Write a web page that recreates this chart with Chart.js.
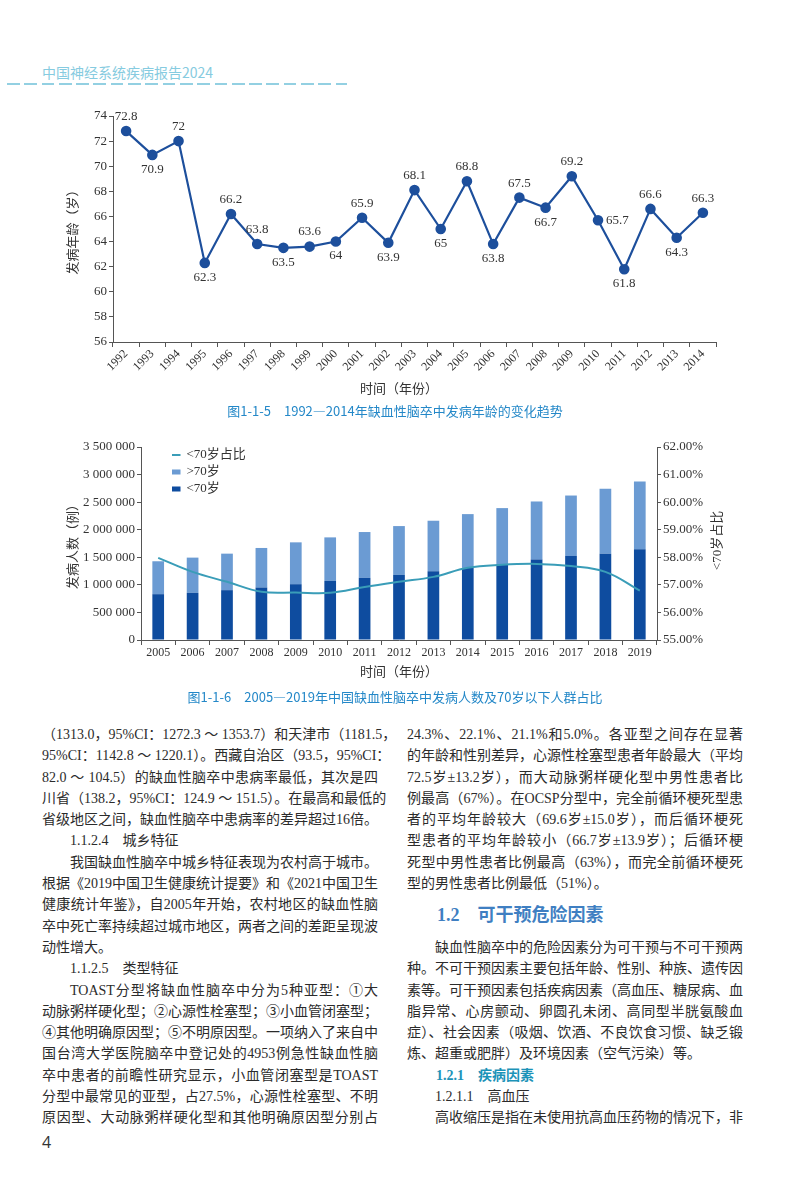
<!DOCTYPE html>
<html lang="zh">
<head>
<meta charset="utf-8">
<script src="https://cdn.jsdelivr.net/npm/chart.js@4.4.1/dist/chart.umd.min.js"></script>
<style>
html, body { margin: 0; padding: 0; background: #fff; }
body { width: 800px; height: 1200px; position: relative; overflow: hidden;
  font-family: "Liberation Serif", "Noto Sans CJK SC", serif; color: #2b2b2b; }
.hdr { position: absolute; left: 42px; top: 62px; font: 14px/20px "Noto Sans CJK SC", sans-serif; color: #86cbe0; }
.dash { position: absolute; left: 7px; top: 83px; width: 340px; height: 1.5px;
  background: repeating-linear-gradient(to right, #93d0e2 0 12.7px, transparent 12.7px 17.3px); }
.cap { position: absolute; left: 0; width: 790px; text-align: center; font: 13px/20px "Noto Sans CJK SC", sans-serif; color: #2488c8; }
.xt { position: absolute; left: 0; width: 798px; text-align: center; font: 13px/20px "Noto Sans CJK SC", sans-serif; color: #333; }
.box { position: absolute; }
.col { position: absolute; top: 724px; width: 336px; font-size: 14px; line-height: 21.3px; }
.col div { height: 21.3px; white-space: nowrap; text-align: justify; text-align-last: justify; }
.col div.ind { text-indent: 28px; }
.col div.end { text-align-last: left; }
.col div.sub { text-align-last: left; padding-left: 28px; }
.col div.h2 { height: 42.6px; text-align-last: left; padding-left: 30px;
  font: bold 18px/42.6px "Liberation Serif", "Noto Sans CJK SC", serif; color: #3f7fc2; }
.col div.h3 { text-align-last: left; padding-left: 29px; font-weight: bold; color: #1c93b8; }
.pg { position: absolute; left: 42px; top: 1132px; font: 16px/20px "Open Sans", sans-serif; color: #333; }
</style>
</head>
<body>
<div class="hdr">中国神经系统疾病报告2024</div>
<div class="dash"></div>

<div class="box" style="left:50px;top:100px;width:700px;height:300px;"><canvas id="ageChart"></canvas></div>
<div class="xt" style="top:378px;">时间（年份）</div>
<div class="cap" style="top:401px;">图1-1-5　1992—2014年缺血性脑卒中发病年龄的变化趋势</div>

<div class="box" style="left:50px;top:430px;width:700px;height:254px;"><canvas id="countChart"></canvas></div>
<div class="xt" style="top:661px;">时间（年份）</div>
<div class="cap" style="top:687px;">图1-1-6　2005—2019年中国缺血性脑卒中发病人数及70岁以下人群占比</div>

<div class="col" style="left:42px;">
  <div>（1313.0，95%CI：1272.3 ～ 1353.7）和天津市（1181.5，</div>
  <div>95%CI：1142.8 ～ 1220.1）。西藏自治区（93.5，95%CI：</div>
  <div>82.0 ～ 104.5）的缺血性脑卒中患病率最低，其次是四</div>
  <div>川省（138.2，95%CI：124.9 ～ 151.5）。在最高和最低的</div>
  <div>省级地区之间，缺血性脑卒中患病率的差异超过16倍。</div>
  <div class="sub">1.1.2.4　城乡特征</div>
  <div class="ind">我国缺血性脑卒中城乡特征表现为农村高于城市。</div>
  <div>根据《2019中国卫生健康统计提要》和《2021中国卫生</div>
  <div>健康统计年鉴》，自2005年开始，农村地区的缺血性脑</div>
  <div>卒中死亡率持续超过城市地区，两者之间的差距呈现波</div>
  <div class="end">动性增大。</div>
  <div class="sub">1.1.2.5　类型特征</div>
  <div class="ind">TOAST分型将缺血性脑卒中分为5种亚型：①大</div>
  <div>动脉粥样硬化型；②心源性栓塞型；③小血管闭塞型；</div>
  <div>④其他明确原因型；⑤不明原因型。一项纳入了来自中</div>
  <div>国台湾大学医院脑卒中登记处的4953例急性缺血性脑</div>
  <div>卒中患者的前瞻性研究显示，小血管闭塞型是TOAST</div>
  <div>分型中最常见的亚型，占27.5%，心源性栓塞型、不明</div>
  <div>原因型、大动脉粥样硬化型和其他明确原因型分别占</div>
</div>

<div class="col" style="left:407px;">
  <div>24.3%、22.1%、21.1%和5.0%。各亚型之间存在显著</div>
  <div>的年龄和性别差异，心源性栓塞型患者年龄最大（平均</div>
  <div>72.5岁±13.2岁），而大动脉粥样硬化型中男性患者比</div>
  <div>例最高（67%）。在OCSP分型中，完全前循环梗死型患</div>
  <div>者的平均年龄较大（69.6岁±15.0岁），而后循环梗死</div>
  <div>型患者的平均年龄较小（66.7岁±13.9岁）；后循环梗</div>
  <div>死型中男性患者比例最高（63%），而完全前循环梗死</div>
  <div class="end">型的男性患者比例最低（51%）。</div>
  <div class="h2">1.2　可干预危险因素</div>
  <div class="ind">缺血性脑卒中的危险因素分为可干预与不可干预两</div>
  <div>种。不可干预因素主要包括年龄、性别、种族、遗传因</div>
  <div>素等。可干预因素包括疾病因素（高血压、糖尿病、血</div>
  <div>脂异常、心房颤动、卵圆孔未闭、高同型半胱氨酸血</div>
  <div>症）、社会因素（吸烟、饮酒、不良饮食习惯、缺乏锻</div>
  <div class="end">炼、超重或肥胖）及环境因素（空气污染）等。</div>
  <div class="h3">1.2.1　疾病因素</div>
  <div class="sub">1.2.1.1　高血压</div>
  <div class="ind">高收缩压是指在未使用抗高血压药物的情况下，非</div>
</div>

<div class="pg">4</div>

<script>
// 图1-1-5 data
const ageYears = ['1992', '1993', '1994', '1995', '1996', '1997', '1998', '1999', '2000', '2001', '2002', '2003',
    '2004', '2005', '2006', '2007', '2008', '2009', '2010', '2011', '2012', '2013', '2014'];
const onsetAge = [72.8, 70.9, 72, 62.3, 66.2, 63.8, 63.5, 63.6, 64, 65.9, 63.9, 68.1,
    65, 68.8, 63.8, 67.5, 66.7, 69.2, 65.7, 61.8, 66.6, 64.3, 66.3];
const ageTicks = [56, 58, 60, 62, 64, 66, 68, 70, 72, 74];

// 图1-1-6 data
const countYears = ['2005', '2006', '2007', '2008', '2009', '2010', '2011', '2012', '2013', '2014', '2015',
    '2016', '2017', '2018', '2019'];
const under70 = [831000, 855000, 904000, 952000, 1012000, 1072000, 1127000, 1181000, 1247000, 1307000, 1370000,
    1458000, 1524000, 1566000, 1645000];
const over70 = [597000, 639000, 662000, 717000, 759000, 789000, 831000, 885000, 916000, 976000, 1022000,
    1054000, 1096000, 1175000, 1228000];
const under70Share = [57.98, 57.47, 57.11, 56.75, 56.72, 56.71, 56.92, 57.11, 57.29, 57.62, 57.73,
    57.76, 57.68, 57.47, 56.79];
const countTicks = [0, 500000, 1000000, 1500000, 2000000, 2500000, 3000000, 3500000];
const shareTicks = [55, 56, 57, 58, 59, 60, 61, 62];

// where each value label sits relative to its point
const labelSide = ['top', 'bottom', 'top', 'bottom', 'top', 'top', 'bottom', 'top', 'bottom', 'top', 'bottom', 'top',
    'bottom', 'top', 'bottom', 'top', 'bottom', 'top', 'right', 'bottom', 'top', 'bottom', 'top'];

Chart.defaults.font.family = '"Liberation Serif", "Noto Sans CJK SC", serif';
Chart.defaults.color = '#333';
Chart.defaults.animation = false;

const axisColor = '#555';
const cjkTitle = { family: '"Noto Sans CJK SC", sans-serif', size: 13 };

const pointLabels = {
    id: 'pointLabels',
    afterDatasetsDraw(chart) {
        const ctx = chart.ctx;
        const meta = chart.getDatasetMeta(0);
        ctx.save();
        ctx.font = '13px "Liberation Serif", serif';
        ctx.fillStyle = '#333';
        ctx.textBaseline = 'middle';
        meta.data.forEach((pt, i) => {
            const text = String(onsetAge[i]);
            if (labelSide[i] === 'right') {
                ctx.textAlign = 'left';
                ctx.fillText(text, pt.x + 8, pt.y);
            } else {
                ctx.textAlign = 'center';
                ctx.fillText(text, pt.x, pt.y + (labelSide[i] === 'top' ? -14.5 : 14.5));
            }
        });
        ctx.restore();
    }
};

new Chart(document.getElementById('ageChart'), {
    type: 'line',
    data: {
        labels: ageYears,
        datasets: [{
            data: onsetAge,
            borderColor: '#1d4f9c',
            backgroundColor: '#1d4f9c',
            borderWidth: 2.2,
            pointRadius: 4.2,
            pointBackgroundColor: '#1d4f9c',
            tension: 0
        }]
    },
    options: {
        responsive: true,
        maintainAspectRatio: false,
        layout: { padding: { top: 16, right: 34, left: 0, bottom: 0 } },
        plugins: { legend: { display: false }, tooltip: { enabled: false } },
        scales: {
            x: {
                offset: true,
                grid: { offset: true, drawOnChartArea: false, tickLength: 5, color: axisColor },
                border: { color: axisColor },
                ticks: { autoSkip: false, minRotation: 45, maxRotation: 45, padding: 0, font: { size: 12 } },
                afterFit(scale) { scale.height = 58; }
            },
            y: {
                min: ageTicks[0],
                max: ageTicks[ageTicks.length - 1],
                ticks: { stepSize: ageTicks[1] - ageTicks[0], padding: 2, font: { size: 13 } },
                grid: { drawOnChartArea: false, tickLength: 4, color: axisColor },
                border: { color: axisColor },
                title: { display: true, text: '发病年龄（岁）', font: cjkTitle, padding: { top: 14, bottom: 0 } },
                afterFit(scale) { scale.width = 63; }
            }
        }
    },
    plugins: [pointLabels]
});

const insideLegend = {
    id: 'insideLegend',
    afterDraw(chart) {
        const { ctx, chartArea } = chart;
        const x0 = chartArea.left + 31;
        const y0 = chartArea.top + 8;
        ctx.save();
        ctx.font = '13px "Liberation Serif", "Noto Sans CJK SC", serif';
        ctx.textAlign = 'left';
        ctx.textBaseline = 'middle';
        chart.data.datasets.forEach((ds, i) => {
            const y = y0 + i * 17;
            if (ds.type === 'line') {
                ctx.fillStyle = ds.borderColor;
                ctx.fillRect(x0, y - 1, 8.5, 2);
            } else {
                ctx.fillStyle = ds.backgroundColor;
                ctx.fillRect(x0, y - 2.5, 8.5, 5);
            }
            ctx.fillStyle = '#333';
            ctx.fillText(ds.label, x0 + 14.5, y);
        });
        ctx.restore();
    }
};

const rightTitle = {
    id: 'rightTitle',
    afterDraw(chart) {
        const { ctx, chartArea } = chart;
        ctx.save();
        ctx.translate(chartArea.right + 61, (chartArea.top + chartArea.bottom) / 2 - 3);
        ctx.rotate(-Math.PI / 2);
        ctx.font = '13px "Liberation Serif", "Noto Sans CJK SC", serif';
        ctx.fillStyle = '#333';
        ctx.textAlign = 'center';
        ctx.textBaseline = 'middle';
        ctx.fillText('<70岁占比', 0, 0);
        ctx.restore();
    }
};

const spaced = v => String(v).replace(/\B(?=(\d{3})+(?!\d))/g, ' ');

new Chart(document.getElementById('countChart'), {
    type: 'bar',
    data: {
        labels: countYears,
        datasets: [
            {
                type: 'line',
                label: '<70岁占比',
                data: under70Share,
                yAxisID: 'y1',
                borderColor: '#3a9db8',
                borderWidth: 2,
                pointRadius: 0,
                tension: 0.4,
                order: 0
            },
            {
                label: '>70岁',
                data: over70,
                backgroundColor: '#6b9bd3',
                barPercentage: 0.34,
                categoryPercentage: 1,
                order: 2
            },
            {
                label: '<70岁',
                data: under70,
                backgroundColor: '#0e4c9f',
                barPercentage: 0.34,
                categoryPercentage: 1,
                order: 1
            }
        ]
    },
    options: {
        responsive: true,
        maintainAspectRatio: false,
        layout: { padding: { top: 17, right: 0, left: 0, bottom: 0 } },
        plugins: { legend: { display: false }, tooltip: { enabled: false } },
        scales: {
            x: {
                stacked: true,
                grid: { offset: true, drawOnChartArea: false, tickLength: 5, color: axisColor },
                border: { color: axisColor },
                ticks: { padding: 1, font: { size: 12 } },
                afterFit(scale) { scale.height = 44; }
            },
            y: {
                stacked: true,
                min: countTicks[0],
                max: countTicks[countTicks.length - 1],
                ticks: { stepSize: countTicks[1] - countTicks[0], padding: 2, font: { size: 13 }, callback: spaced },
                grid: { drawOnChartArea: false, tickLength: 4, color: axisColor },
                border: { color: axisColor },
                title: { display: true, text: '发病人数（例）', font: cjkTitle, padding: { top: 14, bottom: 0 } },
                afterFit(scale) { scale.width = 91; }
            },
            y1: {
                position: 'right',
                min: shareTicks[0],
                max: shareTicks[shareTicks.length - 1],
                ticks: { stepSize: shareTicks[1] - shareTicks[0], padding: 2, font: { size: 13 },
                    callback: v => v.toFixed(2) + '%' },
                grid: { drawOnChartArea: false, tickLength: 4, color: axisColor },
                border: { color: axisColor },
                afterFit(scale) { scale.width = 93; }
            }
        }
    },
    plugins: [insideLegend, rightTitle]
});
</script>
</body>
</html>
